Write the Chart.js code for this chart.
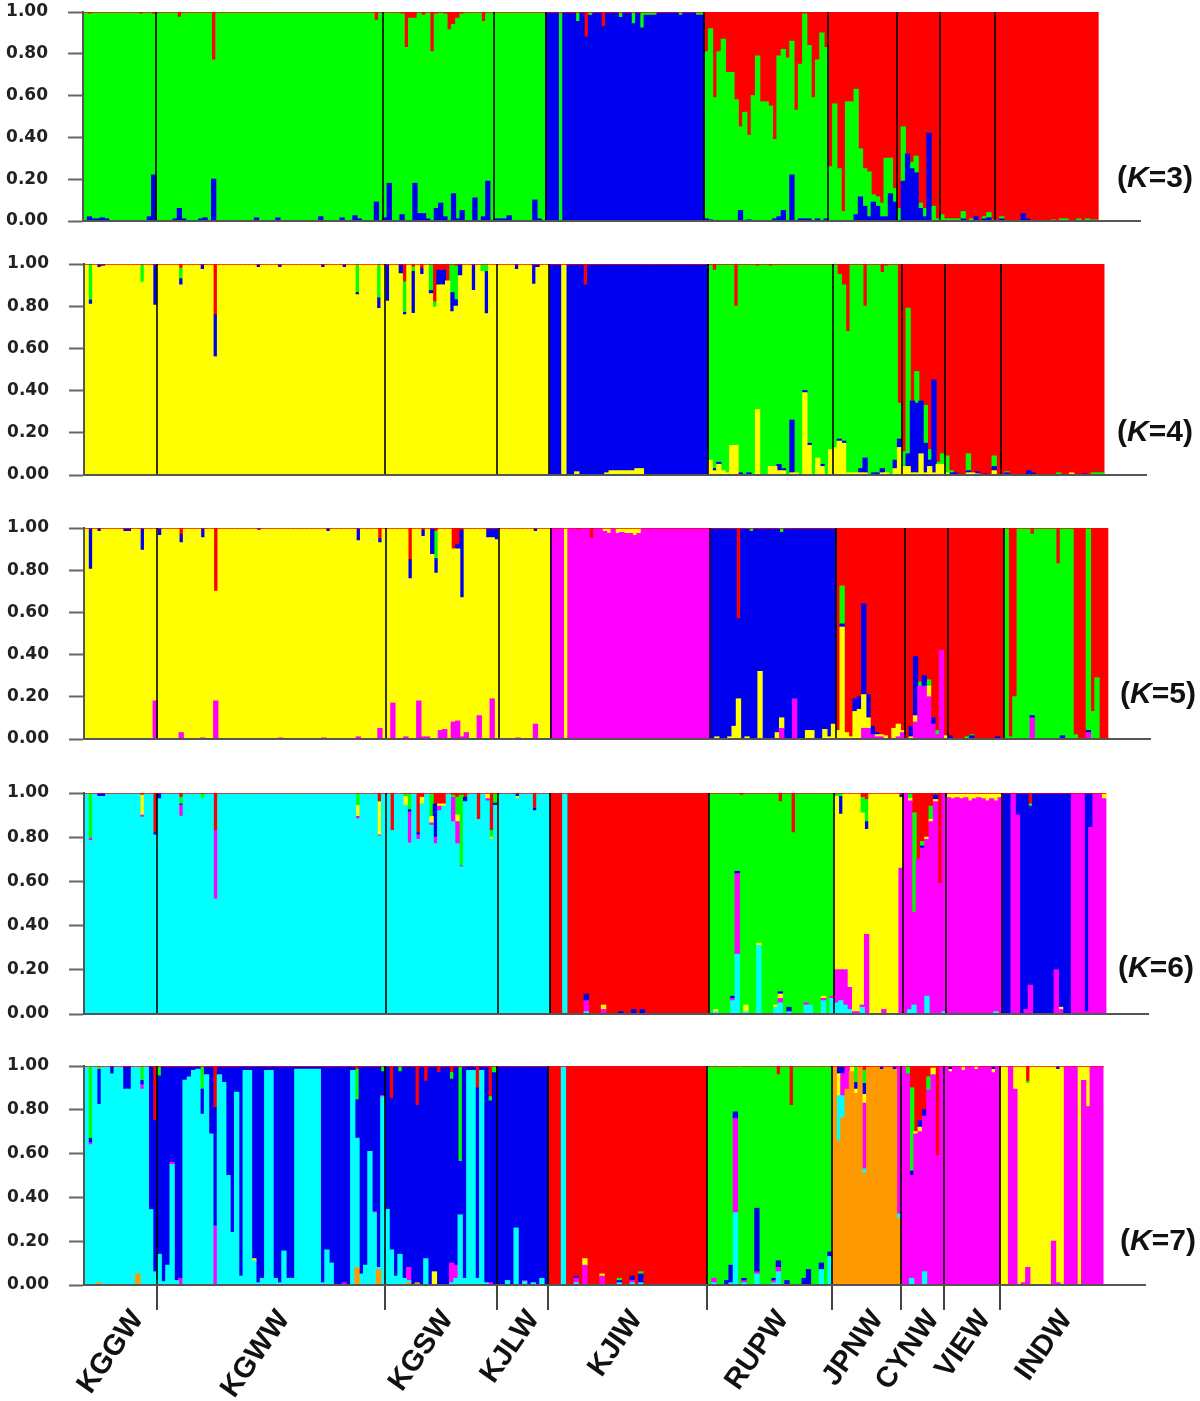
<!DOCTYPE html>
<html>
<head>
<meta charset="utf-8">
<style>
  body { margin: 0; background: #fff; width: 1200px; height: 1401px; position: relative; overflow: hidden; }
  canvas { position: absolute; left: 0; filter: blur(0.5px); }
  .k { position: absolute; font: bold 30px "Liberation Sans", Arial, sans-serif; color: #111; white-space: nowrap; line-height: 30px; }
</style>
<script src="https://cdn.jsdelivr.net/npm/chart.js@4"></script>
</head>
<body>
<script>
// populations and how many individuals each one holds
const populations = ['KGGW', 'KGWW', 'KGSW', 'KJLW', 'KJIW', 'RUPW', 'JPNW', 'CYNW', 'VIEW', 'INDW'];
const popSizes = [17, 53, 26, 12, 37, 29, 16, 10, 13, 24];
const popLabelTicks = [12, 46, 84, 104, 128, 162, 184, 197, 209, 228];
const yTicks = [0, 0.2, 0.4, 0.6, 0.8, 1];
const topTrace = 0.006;

// K=3, bottom to top: blue, green, red. [individual, share]; the main cluster takes what is left
const k3Clusters = ['blue', 'green', 'red'];
const k3Main = [[0, 'green'], [108, 'blue'], [111, 'green'], [112, 'blue'], [145, 'green'], [174, 'red']];
const k3Blue = [[1,.02],[2,.01],[3,.01],[4,.015],[5,.01],[15,.02],[16,.22],[21,.01],[22,.06],[23,.01],[27,.01],[28,.015],[30,.2],[40,.015],[45,.015],[55,.02],[60,.015],[63,.025],[64,.01],[68,.09],[70,.015],[71,.18],[74,.03],[77,.18],[78,.035],[79,.035],[80,.01],[82,.06],[83,.085],[84,.02],[86,.13],[87,.01],[88,.05],[91,.11],[93,.02],[94,.19],[96,.01],[97,.01],[98,.01],[99,.025],[105,.1],[106,.01],[145,.01],[146,.005],[153,.05],[155,.005],[161,.01],[162,.02],[163,.05],[165,.22],[167,.01],[168,.01],[169,.01],[171,.01],[173,.01],[180,.03],[181,.115],[182,.07],[183,.02],[184,.09],[185,.07],[186,.02],[187,.02],[188,.13],[189,.09],[191,.19],[192,.32],[193,.25],[194,.23],[195,.06],[196,.02],[197,.42],[205,.01],[208,.02],[210,.01],[211,.015],[214,.01],[219,.035],[220,.01]];
const k3Green = [[115,.04],[118,.01],[125,.02],[128,.05],[130,.07],[131,.01],[132,.01],[133,.01],[139,.01],[143,.01],[144,.01],[174,.26],[175,.56],[176,.25],[177,.045],[178,.57],[179,.57],[180,.6],[181,.23],[182,.18],[183,.215],[184,.035],[185,.045],[186,.065],[187,.28],[188,.17],[189,.065],[190,.06],[191,.26],[193,.03],[194,.08],[195,.025],[196,.04],[198,.07],[199,.01],[200,.03],[201,.01],[202,.01],[203,.01],[204,.01],[205,.035],[207,.01],[210,.01],[211,.025],[212,.005],[214,.01],[226,.005],[228,.01],[229,.01],[232,.01],[234,.01],[235,.005],[236,.005]];
const k3Red = [[1,.01],[13,.01],[16,.01],[22,.025],[30,.23],[68,.04],[74,.01],[75,.17],[76,.03],[77,.03],[79,.015],[81,.19],[82,.01],[84,.01],[85,.085],[86,.06],[87,.03],[88,.01],[93,.045],[117,.12],[121,.07],[145,.19],[146,.08],[147,.41],[148,.19],[149,.13],[150,.29],[151,.29],[152,.42],[153,.55],[154,.48],[155,.59],[156,.4],[157,.21],[158,.43],[159,.43],[160,.45],[161,.61],[162,.21],[163,.18],[164,.22],[165,.14],[166,.47],[167,.25],[168,.01],[169,.16],[170,.41],[171,.23],[172,.1],[173,.17]];

// K=4
const k4Clusters = ['yellow', 'blue', 'green', 'red'];
const k4Main = [[0, 'yellow'], [108, 'blue'], [111, 'yellow'], [112, 'blue'], [145, 'green'], [190, 'red']];
const k4Yellow = [[114,.015],[121,.01],[122,.02],[123,.02],[124,.02],[125,.02],[126,.02],[127,.02],[128,.03],[129,.03],[145,.07],[146,.02],[147,.05],[148,.02],[149,.01],[150,.14],[151,.14],[156,.31],[159,.04],[160,.04],[161,.02],[162,.02],[164,.01],[165,.01],[167,.39],[168,.14],[170,.08],[171,.04],[173,.12],[174,.13],[175,.16],[176,.15],[177,.01],[178,.01],[179,.01],[180,.01],[181,.01],[185,.01],[186,.01],[188,.03],[189,.13],[190,.04],[191,.04],[192,.01],[193,.01],[194,.1],[195,.01],[196,.04],[197,.01],[198,.05],[199,.05],[200,.01],[205,.01],[206,.01],[207,.005],[211,.02],[229,.01]];
const k4Blue = [[1,.02],[3,.01],[4,.005],[16,.19],[22,.03],[27,.02],[30,.2],[40,.01],[45,.01],[55,.01],[60,.01],[63,.01],[68,.05],[70,.17],[73,.04],[74,.01],[76,.2],[78,.03],[80,.015],[82,.07],[83,.07],[85,.09],[86,.03],[87,.05],[90,.12],[93,.2],[100,.02],[104,.09],[105,.01],[146,.01],[147,.01],[152,.01],[154,.01],[161,.03],[162,.01],[164,.25],[167,.01],[168,.01],[171,.01],[175,.01],[176,.01],[180,.02],[181,.07],[183,.01],[184,.01],[185,.02],[188,.04],[189,.04],[191,.06],[192,.34],[193,.33],[194,.25],[195,.14],[196,.03],[197,.44],[201,.01],[202,.01],[205,.01],[207,.01],[209,.005],[211,.02],[214,.01],[219,.02],[220,.01],[232,.005]];
const k4Green = [[1,.165],[13,.08],[22,.05],[63,.13],[68,.155],[74,.145],[76,.02],[80,.12],[81,.025],[85,.13],[86,.16],[92,.03],[93,.03],[190,.07],[191,.69],[193,.15],[195,.18],[196,.05],[198,.01],[199,.05],[200,.08],[201,.01],[205,.08],[211,.05],[214,.005],[226,.01],[234,.01],[235,.01],[236,.01]];
const k4Red = [[22,.02],[30,.24],[74,.085],[76,.015],[78,.02],[81,.18],[82,.03],[83,.03],[84,.08],[86,.01],[116,.1],[146,.03],[151,.2],[156,.01],[159,.01],[175,.05],[176,.1],[177,.32],[181,.2],[185,.04],[186,.01],[189,.66]];

// K=5
const k5Clusters = ['magenta', 'yellow', 'blue', 'green', 'red'];
const k5Main = [[0, 'yellow'], [108, 'magenta'], [111, 'yellow'], [112, 'magenta'], [145, 'blue'], [174, 'red'], [213, 'green'], [214, 'red'], [216, 'green'], [229, 'red'], [232, 'green'], [233, 'red']];
const k5Magenta = [[16,.18],[22,.03],[27,.005],[30,.18],[45,.005],[55,.005],[63,.01],[68,.05],[71,.17],[74,.01],[77,.18],[78,.01],[79,.01],[82,.04],[83,.045],[85,.08],[86,.085],[87,.01],[88,.03],[91,.11],[94,.19],[100,.005],[104,.07],[161,.05],[164,.19],[180,.05],[181,.05],[182,.02],[183,.01],[184,.01],[188,.01],[189,.03],[192,.08],[193,.25],[194,.25],[195,.2],[196,.07],[197,.02],[198,.42],[219,.1],[232,.03]];
const k5Yellow = [[120,.01],[121,.02],[123,.02],[124,.015],[125,.02],[126,.02],[127,.03],[128,.02],[146,.01],[149,.01],[150,.06],[151,.19],[153,.01],[156,.32],[160,.03],[161,.05],[167,.04],[168,.04],[171,.045],[172,.01],[173,.07],[174,.04],[175,.53],[176,.03],[177,.01],[178,.13],[179,.14],[180,.16],[181,.05],[183,.01],[184,.01],[185,.015],[187,.05],[188,.06],[189,.01],[191,.01],[192,.03],[195,.05],[199,.015]];
const k5Blue = [[1,.19],[3,.01],[9,.01],[10,.01],[13,.1],[17,.03],[22,.04],[27,.04],[40,.005],[56,.01],[63,.055],[68,.02],[75,.09],[78,.03],[80,.12],[81,.07],[86,.02],[87,.32],[93,.04],[94,.04],[95,.05],[104,.01],[175,.015],[178,.06],[179,.06],[180,.43],[181,.11],[182,.04],[183,.01],[191,.05],[192,.28],[194,.05],[196,.03],[200,.015],[205,.015],[211,.01],[219,.01],[226,.015],[232,.01]];
const k5Green = [[81,.13],[154,.01],[161,.015],[175,.18],[193,.02],[195,.03],[197,.02],[204,.01],[205,.005],[214,.01],[215,.2],[229,.02],[233,.13],[234,.29]];
const k5Red = [[22,.03],[30,.3],[68,.05],[75,.15],[78,.01],[81,.015],[85,.1],[86,.08],[87,.01],[114,.01],[117,.05],[151,.43],[219,.03],[225,.17]];

// K=6
const k6Clusters = ['cyan', 'magenta', 'yellow', 'blue', 'green', 'red'];
const k6Main = [[0, 'cyan'], [108, 'red'], [111, 'cyan'], [112, 'red'], [145, 'green'], [174, 'yellow'], [190, 'magenta'], [213, 'blue'], [215, 'magenta'], [216, 'blue'], [229, 'magenta'], [232, 'blue'], [233, 'magenta']];
const k6Cyan = [[116,.01],[146,.01],[150,.06],[151,.27],[153,.01],[156,.31],[160,.03],[161,.05],[163,.01],[167,.04],[168,.04],[171,.06],[173,.07],[174,.05],[175,.06],[176,.04],[177,.02],[180,.03],[191,.02],[192,.04],[195,.08],[199,.01],[211,.01]];
const k6Magenta = [[1,.01],[13,.01],[22,.05],[30,.31],[63,.01],[68,.005],[75,.14],[77,.02],[80,.01],[81,.03],[82,.02],[85,.11],[86,.1],[87,.005],[93,.01],[116,.05],[120,.02],[150,.01],[151,.365],[161,.02],[167,.01],[171,.01],[173,.01],[174,.15],[175,.14],[176,.16],[177,.1],[178,.01],[179,.01],[180,.01],[181,.36],[185,.02],[189,.66],[216,.9],[218,.02],[219,.13],[225,.2],[226,.02],[232,.01]];
const k6Yellow = [[13,.09],[63,.05],[68,.15],[74,.04],[78,.03],[80,.03],[82,.01],[83,.01],[86,.03],[93,.02],[94,.01],[100,.01],[120,.02],[146,.01],[153,.03],[156,.01],[160,.01],[161,.02],[171,.01],[191,.01],[195,.01],[196,.01],[197,.01],[200,.015],[201,.02],[202,.015],[203,.02],[204,.015],[205,.03],[206,.02],[207,.015],[208,.02],[209,.03],[210,.02],[211,.03],[212,.015],[226,.01],[236,.02]];
const k6Blue = [[3,.01],[4,.01],[16,.01],[17,.02],[22,.005],[75,.01],[77,.01],[81,.15],[88,.02],[95,.01],[100,.01],[104,.01],[116,.03],[124,.01],[127,.02],[129,.02],[150,.01],[151,.01],[161,.01],[163,.02],[175,.08],[181,.035],[189,.01],[194,.01],[197,.02],[233,.15]];
const k6Green = [[1,.2],[22,.03],[27,.02],[63,.05],[74,.01],[75,.07],[80,.1],[85,.01],[86,.08],[87,.32],[94,.03],[95,.04],[174,.01],[175,.01],[180,.07],[181,.1],[191,.02],[192,.45],[194,.02],[196,.06],[219,.01]];
const k6Red = [[1,.005],[13,.01],[16,.18],[22,.02],[30,.17],[68,.04],[71,.17],[77,.18],[78,.02],[81,.05],[82,.05],[83,.05],[85,.01],[86,.02],[87,.01],[88,.02],[91,.12],[94,.17],[104,.07],[152,.01],[161,.04],[164,.18],[180,.02],[181,.03],[189,.01],[192,.09],[193,.3],[194,.22],[195,.2],[196,.06],[197,.01],[198,.41],[219,.05]];

// K=7
const k7Clusters = ['orange', 'cyan', 'magenta', 'yellow', 'blue', 'green', 'red'];
const k7Main = [[0, 'cyan'], [17, 'blue'], [108, 'red'], [111, 'cyan'], [112, 'red'], [145, 'green'], [174, 'orange'], [190, 'magenta'], [213, 'yellow'], [215, 'magenta'], [217, 'yellow'], [228, 'magenta'], [231, 'yellow'], [232, 'magenta']];
const k7Orange = [[3,.01],[12,.05],[63,.08],[68,.07],[75,.01],[77,.01]];
const k7Cyan = [[17,.14],[18,.015],[19,.09],[20,.55],[21,.02],[23,.935],[24,.95],[25,.98],[26,.985],[27,.78],[28,.96],[29,.69],[31,.96],[32,.925],[33,.5],[34,.24],[35,.88],[36,.04],[37,.98],[38,.98],[39,.11],[40,.01],[41,.03],[42,.98],[43,.98],[44,.03],[45,.01],[46,.155],[47,.03],[48,.03],[49,.985],[50,.985],[51,.985],[52,.985],[53,.985],[54,.985],[55,.01],[56,.16],[57,.1],[62,.98],[63,.59],[64,.05],[65,.09],[66,.61],[67,.33],[68,.01],[69,.86],[70,.345],[71,.16],[72,.04],[73,.14],[74,.03],[75,.01],[79,.12],[85,.01],[86,.03],[87,.32],[88,.03],[89,.98],[90,.98],[91,.03],[92,.98],[93,.01],[98,.02],[100,.26],[102,.015],[104,.01],[106,.03],[114,.01],[124,.01],[127,.01],[129,.01],[146,.01],[150,.01],[151,.33],[153,.01],[156,.05],[160,.01],[161,.06],[171,.07],[173,.13],[175,.205],[176,.1],[181,.02],[189,.02],[192,.03],[195,.06]];
const k7Magenta = [[1,.01],[13,.02],[20,.01],[22,.03],[30,.27],[60,.01],[67,.005],[69,.005],[75,.06],[85,.09],[86,.06],[94,.01],[102,.005],[114,.02],[116,.09],[120,.04],[127,.01],[146,.02],[151,.43],[153,.01],[156,.01],[160,.01],[161,.02],[176,.1],[177,.1],[181,.3],[189,.67],[218,.01],[219,.08],[225,.2],[226,.01]];
const k7Yellow = [[39,.01],[81,.06],[116,.03],[120,.01],[175,.1],[178,.02],[179,.02],[181,.04],[193,.01],[194,.02],[197,.03],[201,.01],[204,.015],[207,.01],[211,.015],[216,.1],[232,.06],[233,.18]];
const k7Blue = [[1,.02],[3,.16],[6,.03],[9,.1],[10,.1],[13,.02],[15,.65],[16,.69],[114,.01],[124,.01],[127,.02],[129,.04],[149,.02],[150,.08],[151,.03],[153,.01],[156,.29],[160,.01],[161,.03],[163,.02],[167,.03],[168,.07],[171,.03],[173,.02],[175,.03],[176,.03],[179,.03],[181,.05],[185,.01],[188,.01],[192,.02],[194,.03],[195,.03],[201,.01],[211,.01],[226,.01]];
const k7Green = [[1,.325],[3,.01],[13,.06],[17,.04],[27,.1],[63,.14],[69,.02],[73,.02],[85,.03],[87,.43],[94,.02],[95,.025],[124,.01],[129,.01],[179,.07],[181,.06],[191,.03],[192,.38],[196,.06],[219,.01]];
const k7Red = [[1,.005],[16,.25],[30,.19],[63,.015],[71,.15],[77,.18],[79,.07],[82,.03],[85,.03],[91,.1],[94,.14],[152,.005],[161,.04],[164,.18],[181,.02],[192,.1],[193,.3],[194,.25],[195,.2],[196,.05],[197,.01],[198,.41],[219,.07]];

const clusterColors = {
  green: '#00ff00', blue: '#0000f0', red: '#ff0000', yellow: '#ffff00',
  magenta: '#ff00ff', cyan: '#00ffff', orange: '#ff9900'
};

const panels = [
  { title: '3', clusters: k3Clusters, main: k3Main, shares: [k3Blue, k3Green, k3Red], left: 83, right: 1141, top: 12, bottom: 221, labelX: 1117, labelY: 162 },
  { title: '4', clusters: k4Clusters, main: k4Main, shares: [k4Yellow, k4Blue, k4Green, k4Red], left: 84, right: 1147, top: 264, bottom: 475, labelX: 1117, labelY: 416 },
  { title: '5', clusters: k5Clusters, main: k5Main, shares: [k5Magenta, k5Yellow, k5Blue, k5Green, k5Red], left: 84, right: 1151, top: 528, bottom: 739, labelX: 1120, labelY: 678 },
  { title: '6', clusters: k6Clusters, main: k6Main, shares: [k6Cyan, k6Magenta, k6Yellow, k6Blue, k6Green, k6Red], left: 84, right: 1149, top: 793, bottom: 1014, labelX: 1118, labelY: 952 },
  { title: '7', clusters: k7Clusters, main: k7Main, shares: [k7Orange, k7Cyan, k7Magenta, k7Yellow, k7Blue, k7Green, k7Red], left: 84, right: 1146, top: 1066, bottom: 1285, labelX: 1120, labelY: 1225 }
];

const individuals = popSizes.reduce((a, b) => a + b, 0);
const emptyTail = 10; // the axis runs on past the last individual
const popBoundaries = [];
popSizes.slice(0, -1).reduce((sum, n) => { popBoundaries.push(sum + n); return sum + n; }, 0);

// 由稀疏读数生成每个个体的堆叠值
function buildDatasets(panel) {
  const rows = panel.clusters.map(() => new Array(individuals).fill(0));
  panel.shares.forEach((list, c) => list.forEach(([i, share]) => { rows[c][i] = share; }));
  const topRow = rows[rows.length - 1];
  for (let i = 0; i < individuals; i++) {
    if (!topRow[i]) topRow[i] = topTrace;
    let mainName = panel.main[0][1];
    panel.main.forEach(([start, name]) => { if (i >= start) mainName = name; });
    const m = panel.clusters.indexOf(mainName);
    let others = 0;
    rows.forEach((row, c) => { if (c !== m) others += row[i]; });
    rows[m][i] = Math.max(0, 1 - others);
  }
  return panel.clusters.map((name, c) => ({
    label: name,
    data: rows[c].map(v => (v > 0 ? v : null)),
    backgroundColor: clusterColors[name],
    borderWidth: 0,
    inflateAmount: 0.5,
    barPercentage: 1,
    categoryPercentage: 1
  }));
}

function drawPanel(panel, isLast) {
  const canvasTop = panel.top - 10;
  const canvasBottom = isLast ? 1401 : panel.bottom + 12;
  const canvas = document.createElement('canvas');
  canvas.width = 1200;
  canvas.height = canvasBottom - canvasTop;
  canvas.style.top = canvasTop + 'px';
  document.body.appendChild(canvas);

  const labels = [];
  for (let i = 0; i < individuals + emptyTail; i++) labels.push(String(i + 1));

  new Chart(canvas, {
    type: 'bar',
    data: { labels: labels, datasets: buildDatasets(panel) },
    options: {
      responsive: false,
      animation: false,
      events: [],
      layout: { padding: { top: 10, right: 1200 - panel.right, left: 0, bottom: 0 } },
      plugins: { legend: { display: false }, tooltip: { enabled: false } },
      scales: {
        x: {
          stacked: true,
          afterFit: s => { s.height = canvasBottom - panel.bottom; },
          border: { color: '#555', width: 2, z: 1 },
          grid: {
            z: 1,
            offset: true,
            drawTicks: isLast,
            tickLength: 25,
            color: 'rgba(0,0,0,0.8)',
            tickColor: '#444',
            lineWidth: ctx => (popBoundaries.includes(ctx.index) ? 2 : 0),
            tickWidth: ctx => (popBoundaries.includes(ctx.index) ? 2 : 0)
          },
          ticks: {
            display: isLast,
            autoSkip: false,
            minRotation: 55,
            maxRotation: 55,
            padding: -6,
            color: '#111',
            font: { family: '"Liberation Sans", Arial, sans-serif', size: 29, weight: 'bold' },
            callback: (value, index) => {
              const p = popLabelTicks.indexOf(index);
              return p >= 0 ? populations[p] : '';
            }
          }
        },
        y: {
          stacked: true,
          min: 0,
          max: 1,
          afterFit: s => { s.width = panel.left; s.paddingTop = 0; s.paddingBottom = 0; },
          afterBuildTicks: s => { s.ticks = yTicks.map(v => ({ value: v })); },
          border: { color: '#555', width: 2, z: 1 },
          grid: { drawOnChartArea: false, tickLength: 15, tickColor: '#666', tickWidth: 2 },
          ticks: {
            padding: 20,
            color: '#222',
            font: { family: '"DejaVu Sans", sans-serif', size: 17, weight: 'bold' },
            callback: v => Number(v).toFixed(2)
          }
        }
      }
    }
  });

  const label = document.createElement('div');
  label.className = 'k';
  label.style.left = panel.labelX + 'px';
  label.style.top = panel.labelY + 'px';
  label.innerHTML = '(<i>K</i>=' + panel.title + ')';
  document.body.appendChild(label);
}

panels.forEach((panel, i) => drawPanel(panel, i === panels.length - 1));
</script>
</body>
</html>
